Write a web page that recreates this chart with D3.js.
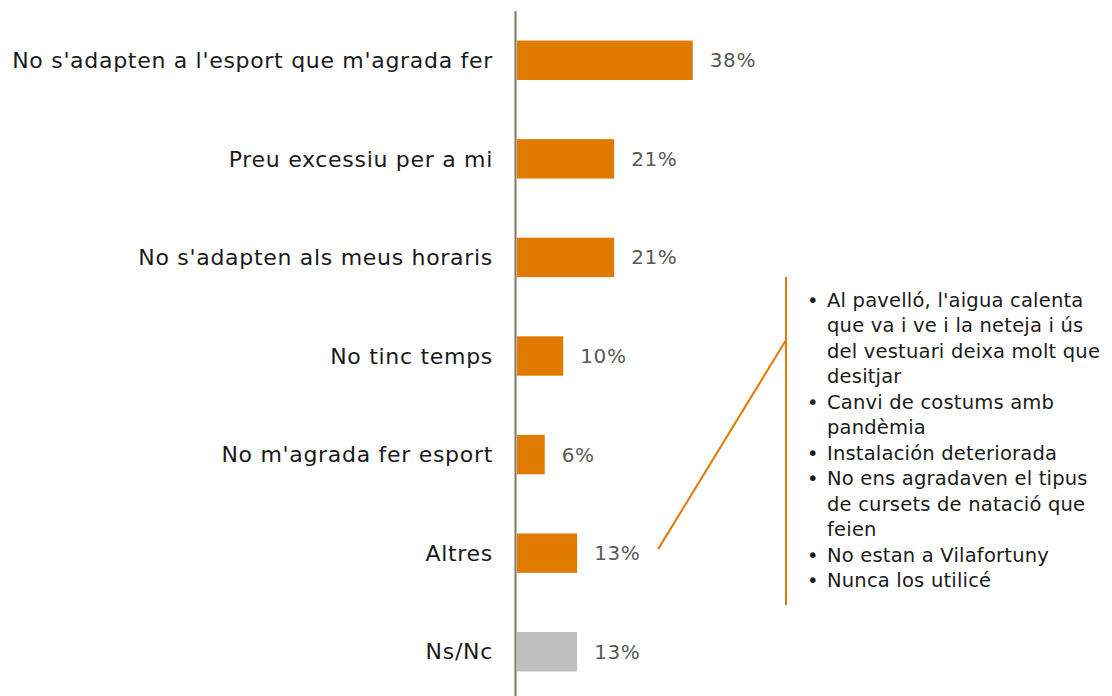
<!DOCTYPE html>
<html>
<head>
<meta charset="utf-8">
<script src="https://cdn.jsdelivr.net/npm/d3@7"></script>
<style>
  body { margin: 0; background: #fff; }
  svg { display: block; font-family: "DejaVu Sans", sans-serif; }
  .cat-label { font-size: 22px; letter-spacing: 0.7px; fill: #1a1a1a; }
  .val-label { font-size: 20px; letter-spacing: 0.6px; fill: #595959; }
  .note { font-size: 19.5px; letter-spacing: 0.2px; fill: #1a1a1a; }
</style>
</head>
<body>
<div id="chart"></div>
<script>
const categories = [
  "No s'adapten a l'esport que m'agrada fer",
  "Preu excessiu per a mi",
  "No s'adapten als meus horaris",
  "No tinc temps",
  "No m'agrada fer esport",
  "Altres",
  "Ns/Nc"
];
const values = [0.38, 0.21, 0.21, 0.10, 0.06, 0.13, 0.13];

// open answers behind "Altres", already wrapped as in the original
const otherNotes = [
  ["Al pavelló, l'aigua calenta", "que va i ve i la neteja i ús", "del vestuari deixa molt que", "desitjar"],
  ["Canvi de costums amb", "pandèmia"],
  ["Instalación deteriorada"],
  ["No ens agradaven el tipus", "de cursets de natació que", "feien"],
  ["No estan a Vilafortuny"],
  ["Nunca los utilicé"]
];

const ORANGE = "#E07B00";
const GREY   = "#BFBFBF";
const AXIS   = "#7F7465";

const WIDTH  = 1112;
const HEIGHT = 696;

const x = d3.scaleLinear().domain([0, 0.4]).range([517, 702]);
const y = d3.scaleBand()
  .domain(categories)
  .range([11, 701])
  .paddingInner(0.6)
  .paddingOuter(0.3);

const svg = d3.select("#chart").append("svg")
  .attr("width", WIDTH)
  .attr("height", HEIGHT);

const rows = categories.map((c, i) => ({ cat: c, val: values[i] }));

// bars
svg.selectAll(".bar")
  .data(rows)
  .enter().append("rect")
  .attr("class", "bar")
  .attr("x", x(0))
  .attr("y", d => y(d.cat))
  .attr("width", d => x(d.val) - x(0))
  .attr("height", y.bandwidth())
  .attr("fill", d => d.cat === "Ns/Nc" ? GREY : ORANGE);

// vertical axis line
svg.append("line")
  .attr("x1", x(0) - 1.5).attr("x2", x(0) - 1.5)
  .attr("y1", 11).attr("y2", HEIGHT)
  .attr("stroke", AXIS)
  .attr("stroke-width", 2);

// category labels
svg.selectAll(".cat-label")
  .data(rows)
  .enter().append("text")
  .attr("class", "cat-label")
  .attr("x", 493)
  .attr("y", d => y(d.cat) + y.bandwidth() / 2)
  .attr("dy", "0.35em")
  .attr("text-anchor", "end")
  .text(d => d.cat);

// value labels
svg.selectAll(".val-label")
  .data(rows)
  .enter().append("text")
  .attr("class", "val-label")
  .attr("x", d => x(d.val) + 17)
  .attr("y", d => y(d.cat) + y.bandwidth() / 2)
  .attr("dy", "0.35em")
  .text(d => Math.round(d.val * 100) + "%");

// callout for "Altres"
const altY = y("Altres") + y.bandwidth() / 2;
const calloutX = 786;
svg.append("line")
  .attr("x1", calloutX).attr("x2", calloutX)
  .attr("y1", 277).attr("y2", 605)
  .attr("stroke", ORANGE).attr("stroke-width", 2);
svg.append("line")
  .attr("x1", x(0.13) + 81).attr("y1", altY - 4)
  .attr("x2", calloutX).attr("y2", 340)
  .attr("stroke", ORANGE).attr("stroke-width", 2);

const LINE_H = 25.45;
let ty = 307;
const notes = svg.append("g").attr("class", "notes");
otherNotes.forEach(lines => {
  notes.append("text").attr("class", "note")
    .attr("x", 807).attr("y", ty).text("•");
  lines.forEach((ln, j) => {
    notes.append("text").attr("class", "note")
      .attr("x", 827).attr("y", ty + j * LINE_H)
      .text(ln);
  });
  ty += lines.length * LINE_H;
});
</script>
</body>
</html>
